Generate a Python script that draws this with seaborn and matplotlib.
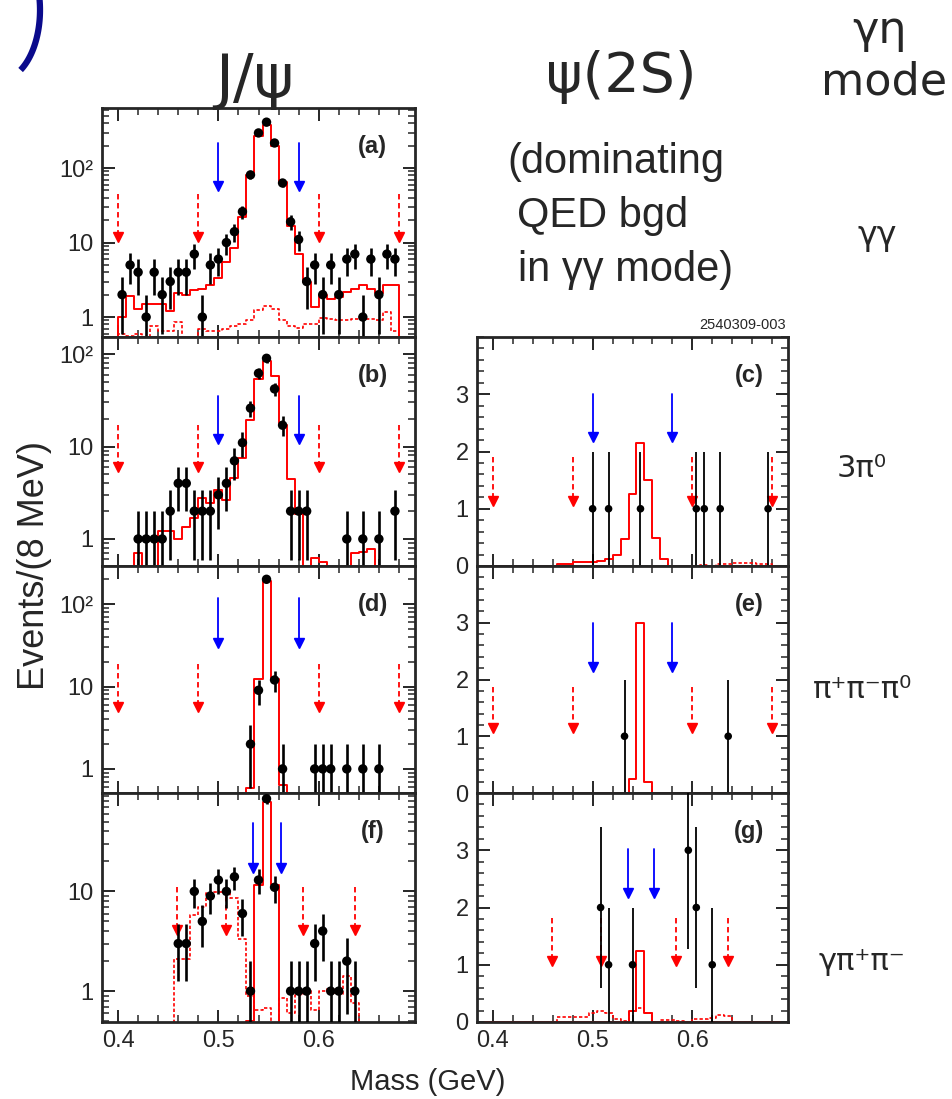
import numpy as np
import pandas as pd
import matplotlib
matplotlib.use("Agg")
import matplotlib.pyplot as plt
import matplotlib.ticker as mticker
import seaborn as sns

# 8 MeV bins, 0.400 - 0.680 GeV (35 bins)
edges = np.round(0.400 + 0.008 * np.arange(36), 3)
centers = np.round(edges[:-1] + 0.004, 3)

# ---- J/psi, gamma gamma (a)
a_data = [2, 5, 4, 1, 4, 2, 3, 4, 4, 7, 1, 5, 6, 10, 14, 26, 81, 296, 413, 217,
          63, 19, 11, 3, 5, 2, 5, 2, 6, 7, 1, 6, 2, 7, 6]
a_mc = [1.0, 1.9, 1.3, 1.5, 1.5, 1.5, 1.2, 2.1, 2.0, 2.3, 2.4, 2.7, 3.3, 5.5, 8.5, 22,
        80, 270, 380, 200, 66, 16.6, 7.1, 3.0, 1.36, 1.96, 1.77, 1.86, 2.2, 2.4, 2.67,
        2.4, 2.1, 2.67, 2.67]
a_bkg = [0.6, 0.55, 0.6, 0.5, 0.75, 0.65, 0.65, 0.85, 0.4, 0.4, 0.7, 0.65, 0.65, 0.7,
         0.75, 0.8, 0.9, 1.25, 1.4, 1.3, 0.9, 0.75, 0.72, 0.8, 0.8, 0.98, 0.95, 0.9,
         0.9, 0.95, 0.95, 0.93, 0.9, 1.17, 0.65]

# ---- J/psi, 3pi0 (b)
b_data = [0, 0, 1, 1, 1, 1, 2, 4, 4, 2, 2, 2, 3, 4, 7, 11, 26, 62, 90, 42,
          17, 2, 2, 2, 0, 0, 0, 0, 1, 0, 1, 0, 1, 0, 2]
b_mc = [0, 0, 0.7, 0, 0, 1.22, 1.22, 1.0, 1.36, 1.68, 2.8, 2.44, 3.35, 2.65, 4.6, 7.5,
        19.6, 54, 84, 58, 17.3, 4.4, 1.87, 0, 0.63, 0.57, 0, 0, 0, 0.7, 0.73, 0.77,
        0, 0, 0]

# ---- psi(2S), 3pi0 (c)
c_data = [0, 0, 0, 0, 0, 0, 0, 0, 0, 0, 0, 0, 1, 0, 1, 0, 0, 0, 1, 0,
          0, 0, 0, 0, 0, 1, 1, 0, 1, 0, 0, 0, 0, 0, 1]
c_mc = [0, 0, 0, 0, 0, 0, 0, 0, 0.03, 0.04, 0.07, 0.07, 0.07, 0.09, 0.12, 0.2, 0.47,
        1.26, 2.15, 1.5, 0.49, 0.12, 0, 0, 0, 0, 0, 0, 0, 0, 0, 0, 0, 0, 0]
c_bkg = [0, 0, 0, 0, 0, 0, 0, 0, 0, 0, 0, 0, 0, 0, 0, 0, 0, 0, 0, 0,
         0, 0, 0, 0, 0, 0, 0.02, 0, 0.03, 0.04, 0.05, 0.06, 0.05, 0.04, 0.03]

# ---- J/psi, pi+pi-pi0 (d)
d_data = [0, 0, 0, 0, 0, 0, 0, 0, 0, 0, 0, 0, 0, 0, 0, 0, 2, 9, 200, 12,
          1, 0, 0, 0, 1, 1, 1, 0, 1, 0, 1, 0, 1, 0, 0]
d_mc = [0, 0, 0, 0, 0, 0, 0, 0, 0, 0, 0, 0, 0, 0, 0, 0, 0.59, 12.5, 190, 12.5,
        0.63, 0, 0, 0, 0, 0, 0, 0, 0, 0, 0, 0, 0, 0, 0]

# ---- psi(2S), pi+pi-pi0 (e)
e_data = [0, 0, 0, 0, 0, 0, 0, 0, 0, 0, 0, 0, 0, 0, 0, 0, 1, 0, 0, 0,
          0, 0, 0, 0, 0, 0, 0, 0, 0, 1, 0, 0, 0, 0, 0]
e_mc = [0, 0, 0, 0, 0, 0, 0, 0, 0, 0, 0, 0, 0, 0, 0, 0, 0, 0.25, 3.0, 0.19,
        0, 0, 0, 0, 0, 0, 0, 0, 0, 0, 0, 0, 0, 0, 0]

# ---- J/psi, gamma pi+pi- (f)
f_data = [0, 0, 0, 0, 0, 0, 0, 3, 3, 10, 5, 9, 13, 10, 14, 6, 1, 13, 85, 11,
          0, 1, 1, 1, 3, 4, 1, 1, 2, 1, 0, 0, 0, 0, 0]
f_mc = [0, 0, 0, 0, 0, 0, 0, 0, 0, 0, 0, 0, 0, 0, 0, 0, 0.5, 11.7, 79, 11.7,
        0, 0, 0, 0, 0, 0, 0, 0, 0, 0, 0, 0, 0, 0, 0]
f_bkg = [0, 0, 0, 0, 0, 0, 0, 2.1, 2.1, 5.8, 7.0, 9.6, 9.8, 9.8, 8.6, 3.35, 0.89, 0.65,
         0.68, 0, 0.86, 0.6, 0.92, 1.0, 0.65, 1.0, 1.04, 0.93, 1.42, 0.76, 0, 0, 0, 0, 0]

# ---- psi(2S), gamma pi+pi- (g)
g_data = [0, 0, 0, 0, 0, 0, 0, 0, 0, 0, 0, 0, 0, 2, 1, 0, 0, 1, 0, 0,
          0, 0, 0, 0, 3, 2, 0, 1, 0, 0, 0, 0, 0, 0, 0]
g_mc = [0, 0, 0, 0, 0, 0, 0, 0, 0, 0, 0, 0, 0, 0, 0, 0, 0, 0.2, 1.24, 0.15,
        0, 0, 0, 0, 0, 0, 0, 0, 0, 0, 0, 0, 0, 0, 0]
g_bkg = [0, 0, 0, 0, 0, 0, 0, 0, 0.08, 0.08, 0.08, 0.08, 0.16, 0.2, 0.16, 0.05, 0.02,
         0.2, 0.25, 0.15, 0, 0.03, 0.03, 0.02, 0, 0.05, 0.05, 0.07, 0.13, 0.1,
         0, 0, 0, 0, 0]

# cut positions (GeV): sidebands (red dashed) and signal window (blue)
eta_side = [0.40, 0.48, 0.60, 0.68]
eta_sig = [0.50, 0.58]
gpp_side = [0.459, 0.508, 0.584, 0.636]
gpp_sig = [0.535, 0.562]

mode_labels = ["\u03b3\u03b3", "3\u03c0\u2070", "\u03c0\u207a\u03c0\u207b\u03c0\u2070",
               "\u03b3\u03c0\u207a\u03c0\u207b"]

sns.set_style("ticks")
plt.rcParams["font.family"] = ["Liberation Sans", "DejaVu Sans"]
plt.rcParams["axes.linewidth"] = 2.0

W, H = 953, 1099
fig = plt.figure(figsize=(W / 100, H / 100), dpi=100)

row_px = [108, 337, 566, 793, 1022]
colx_px = [(102, 415), (477, 788)]


def make_ax(col, row):
    x0, x1 = colx_px[col]
    top, bot = row_px[row], row_px[row + 1]
    return fig.add_axes([x0 / W, 1 - bot / H, (x1 - x0) / W, (bot - top) / H])


def pad(v):
    return np.concatenate([[0.0], np.asarray(v, float), [0.0]])


pad_edges = [float(v) for v in np.round(np.concatenate([[0.392], edges, [0.688]]), 3)]
pad_centers = np.round(np.array(pad_edges[:-1]) + 0.004, 3)


def draw_hist(ax, vals, ls):
    df = pd.DataFrame({"mass": pad_centers, "w": pad(vals)})
    sns.histplot(data=df, x="mass", weights="w", bins=pad_edges, element="step",
                 fill=False, color="red", linewidth=1.4 if ls == "-" else 1.2,
                 linestyle=ls, ax=ax)


def draw_points(ax, counts, small):
    n = np.asarray(counts, float)
    m = n > 0
    err = np.sqrt(n[m])
    ax.errorbar(centers[m], n[m], yerr=err, fmt="none", ecolor="black",
                elinewidth=1.3 if small else 1.9, capsize=0, zorder=5)
    sns.scatterplot(x=centers[m], y=n[m], color="black", s=30 if small else 46,
                    edgecolor="none", zorder=6, ax=ax)


def draw_arrows(ax, xs, ytop, ytip, color, ls):
    tr = ax.get_xaxis_transform()
    ms = 7.5
    hpx = ax.get_position().height * H
    head = ms * 100 / 72 / hpx
    for x in xs:
        ax.plot([x, x], [ytop, ytip + head * 0.9], color=color, ls=ls, lw=1.3,
                transform=tr, zorder=4)
        ax.plot([x], [ytip + head / 2], marker="v", ms=ms, color=color,
                mec=color, transform=tr, zorder=4)


def log_fmt(v, pos):
    return {1: "1", 10: "10", 100: "10\u00b2"}.get(int(round(v)), "")


def style_ax(ax, logy, bottom):
    ax.set_xlim(0.384, 0.696)
    ax.xaxis.set_major_locator(mticker.FixedLocator([0.4, 0.5, 0.6]))
    ax.xaxis.set_minor_locator(mticker.MultipleLocator(0.02))
    ax.xaxis.set_major_formatter(mticker.FormatStrFormatter("%.1f"))
    if not bottom:
        ax.set_xticklabels([])
    if logy:
        ax.set_yscale("log")
        ax.yaxis.set_major_locator(mticker.FixedLocator([1, 10, 100]))
        ax.yaxis.set_minor_locator(mticker.LogLocator(subs=np.arange(2, 10), numticks=20))
        ax.yaxis.set_major_formatter(mticker.FuncFormatter(log_fmt))
        ax.yaxis.set_minor_formatter(mticker.NullFormatter())
    else:
        ax.set_ylim(0, 4)
        ax.yaxis.set_major_locator(mticker.FixedLocator([0, 1, 2, 3]))
        ax.yaxis.set_minor_locator(mticker.MultipleLocator(0.2))
    ax.tick_params(which="both", direction="in", top=True, right=True, labelsize=17)
    ax.tick_params(which="major", length=9, width=1.4, pad=6)
    ax.tick_params(which="minor", length=5, width=1.1)
    ax.set_xlabel("")
    ax.set_ylabel("")
    for s in ax.spines.values():
        s.set_visible(True)
        s.set_linewidth(2.0)


panels = [
    # (col, row, letter, data, mc, bkg, log, ylim, sides, sig, arrow y)
    (0, 0, "a", a_data, a_mc, a_bkg, True, (0.54, 640), eta_side, eta_sig, (0.625, 0.415, 0.847, 0.638)),
    (0, 1, "b", b_data, b_mc, None, True, (0.51, 153), eta_side, eta_sig, (0.614, 0.408, 0.741, 0.531)),
    (0, 2, "d", d_data, d_mc, None, True, (0.51, 290), eta_side, eta_sig, (0.568, 0.357, 0.859, 0.639)),
    (0, 3, "f", f_data, f_mc, f_bkg, True, (0.49, 97), gpp_side, gpp_sig, (0.59, 0.38, 0.869, 0.651)),
    (1, 1, "c", c_data, c_mc, c_bkg, False, (0, 4), eta_side, eta_sig, (0.474, 0.26, 0.75, 0.54)),
    (1, 2, "e", e_data, e_mc, None, False, (0, 4), eta_side, eta_sig, (0.465, 0.262, 0.75, 0.53)),
    (1, 3, "g", g_data, g_mc, g_bkg, False, (0, 4), gpp_side, gpp_sig, (0.455, 0.245, 0.755, 0.54)),
]

for col, row, letter, dat, mc, bkg, logy, ylim, sides, sig, ay in panels:
    ax = make_ax(col, row)
    draw_hist(ax, mc, "-")
    if bkg is not None:
        draw_hist(ax, bkg, (0, (2.0, 1.3)))
    style_ax(ax, logy, row == 3)
    ax.set_ylim(*ylim)
    draw_arrows(ax, sides, ay[0], ay[1], "red", (0, (3, 2)))
    draw_arrows(ax, sig, ay[2], ay[3], "blue", "-")
    draw_points(ax, dat, col == 1)
    ax.set_xlim(0.384, 0.696)
    ax.set_ylim(*ylim)
    ax.text(0.865 if col == 0 else 0.875, 0.83, f"({letter})", transform=ax.transAxes,
            ha="center", va="center", fontsize=17, fontweight="bold")

# decorative blue bracket from the slide, top-left corner (pixel overlay)
deco = fig.add_axes([0, 0, 1, 1], zorder=-1)
deco.set_xlim(0, W)
deco.set_ylim(H, 0)
deco.axis("off")
th = np.radians(np.linspace(-59, 20, 60))
deco.plot(40 * np.cos(th), 10 - 70 * np.sin(th), color="#0a0a8c", lw=4.5,
          solid_capstyle="butt")

# headings and labels
fig.text(255 / W, 1 - 80 / H, "J/\u03c8", fontsize=44, family=["DejaVu Sans"],
         ha="center", va="center")
fig.text(621 / W, 1 - 77 / H, "\u03c8(2S)", fontsize=40, family=["DejaVu Sans"],
         ha="center", va="center")
fig.text(880 / W, 1 - 30 / H, "\u03b3\u03b7", fontsize=32, family=["DejaVu Sans"],
         ha="center", va="center")
fig.text(884 / W, 1 - 82 / H, "mode", fontsize=32, family=["DejaVu Sans"],
         ha="center", va="center")
fig.text(507 / W, 1 - 162 / H, "(dominating", fontsize=30, ha="left", va="center")
fig.text(517 / W, 1 - 216 / H, "QED bgd", fontsize=30, ha="left", va="center")
fig.text(518 / W, 1 - 270 / H, "in \u03b3\u03b3 mode)", fontsize=30, ha="left", va="center")
fig.text(743 / W, 1 - 325 / H, "2540309-003", fontsize=10.5, ha="center", va="center")

mode_x = [877, 862, 863, 862]
mode_y = [236, 468, 690, 962]
mode_fs = [24, 22, 22, 22]
for lab, xx, yy, fs in zip(mode_labels, mode_x, mode_y, mode_fs):
    fig.text(xx / W, 1 - yy / H, lab, fontsize=fs, family=["DejaVu Sans"],
             ha="center", va="center")

fig.text(35 / W, 1 - 565 / H, "Events/(8 MeV)", fontsize=26, rotation=90,
         ha="center", va="center")
fig.text(428 / W, 1 - 1082 / H, "Mass (GeV)", fontsize=21, ha="center", va="center")

fig.savefig("out.png", dpi=100)
